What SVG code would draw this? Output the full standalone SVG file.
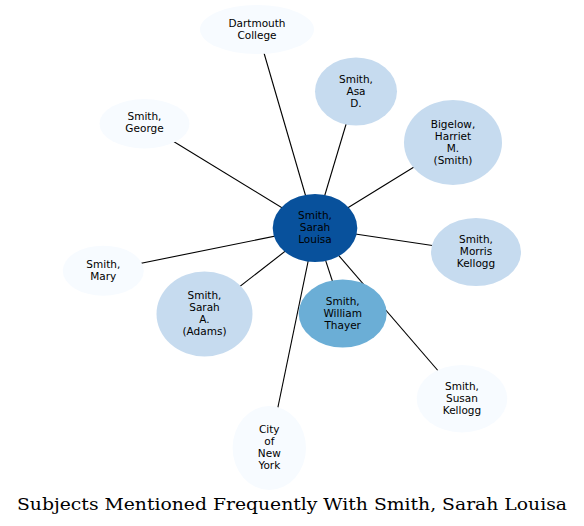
<svg xmlns="http://www.w3.org/2000/svg" width="584" height="526" viewBox="0 0 584 526">
<style>
.e{stroke:#000;stroke-width:1.1;fill:none}
.n0{fill:#f7fbff}
.n1{fill:#c6dbef}
.n2{fill:#6baed6}
.n3{fill:#08519c}
text{font-family:"DejaVu Sans",sans-serif;font-size:10.5px;fill:#000;text-anchor:middle}
.title{font-family:"DejaVu Serif",serif;font-size:17.5px;text-anchor:start}
</style>
<rect width="584" height="526" fill="#fff"/>
<g id="edges">
<line class="e" x1="315" y1="228" x2="257" y2="29"/>
<line class="e" x1="315" y1="228" x2="356" y2="91"/>
<line class="e" x1="315" y1="228" x2="453" y2="143"/>
<line class="e" x1="315" y1="228" x2="145" y2="124"/>
<line class="e" x1="315" y1="228" x2="476" y2="252"/>
<line class="e" x1="315" y1="228" x2="103" y2="271"/>
<line class="e" x1="315" y1="228" x2="204.5" y2="314"/>
<line class="e" x1="315" y1="228" x2="343" y2="313.5"/>
<line class="e" x1="315" y1="228" x2="462" y2="398.5"/>
<line class="e" x1="315" y1="228" x2="269.5" y2="448"/>
</g>
<g id="dartmouth"><ellipse class="n0" cx="257" cy="29.5" rx="57" ry="24.5"/><text x="257" y="27">Dartmouth</text><text x="257" y="39">College</text></g>
<g id="asa"><ellipse class="n1" cx="356" cy="91.5" rx="41" ry="34"/><text x="356" y="82.5">Smith,</text><text x="356" y="94.5">Asa</text><text x="356" y="106.5">D.</text></g>
<g id="bigelow"><ellipse class="n1" cx="453" cy="142.5" rx="49" ry="42.5"/><text x="453" y="128">Bigelow,</text><text x="453" y="140">Harriet</text><text x="453" y="152">M.</text><text x="453" y="164">(Smith)</text></g>
<g id="george"><ellipse class="n0" cx="144.5" cy="123.7" rx="45" ry="24.7"/><text x="144.5" y="120">Smith,</text><text x="144.5" y="132">George</text></g>
<g id="sarah-louisa"><ellipse class="n3" cx="315" cy="228" rx="42.3" ry="34"/><text x="315" y="218.5">Smith,</text><text x="315" y="230.5">Sarah</text><text x="315" y="242.5">Louisa</text></g>
<g id="morris"><ellipse class="n1" cx="476" cy="252" rx="45" ry="34"/><text x="476" y="243">Smith,</text><text x="476" y="255">Morris</text><text x="476" y="267">Kellogg</text></g>
<g id="mary"><ellipse class="n0" cx="103.3" cy="270.7" rx="40.5" ry="25"/><text x="103.3" y="267.5">Smith,</text><text x="103.3" y="279.5">Mary</text></g>
<g id="sarah-adams"><ellipse class="n1" cx="204.5" cy="314" rx="48" ry="42.5"/><text x="204.5" y="299">Smith,</text><text x="204.5" y="311">Sarah</text><text x="204.5" y="323">A.</text><text x="204.5" y="335">(Adams)</text></g>
<g id="william"><ellipse class="n2" cx="342.7" cy="313.5" rx="44" ry="34"/><text x="342.7" y="304.5">Smith,</text><text x="342.7" y="316.5">William</text><text x="342.7" y="328.5">Thayer</text></g>
<g id="susan"><ellipse class="n0" cx="462" cy="398.7" rx="45.3" ry="33.7"/><text x="462" y="389.5">Smith,</text><text x="462" y="401.5">Susan</text><text x="462" y="413.5">Kellogg</text></g>
<g id="city"><ellipse class="n0" cx="269.3" cy="448" rx="36.7" ry="42"/><text x="269.3" y="433">City</text><text x="269.3" y="445">of</text><text x="269.3" y="457">New</text><text x="269.3" y="469">York</text></g>
<text class="title" x="17" y="509.5" textLength="550" lengthAdjust="spacingAndGlyphs">Subjects Mentioned Frequently With Smith, Sarah Louisa</text>
</svg>
